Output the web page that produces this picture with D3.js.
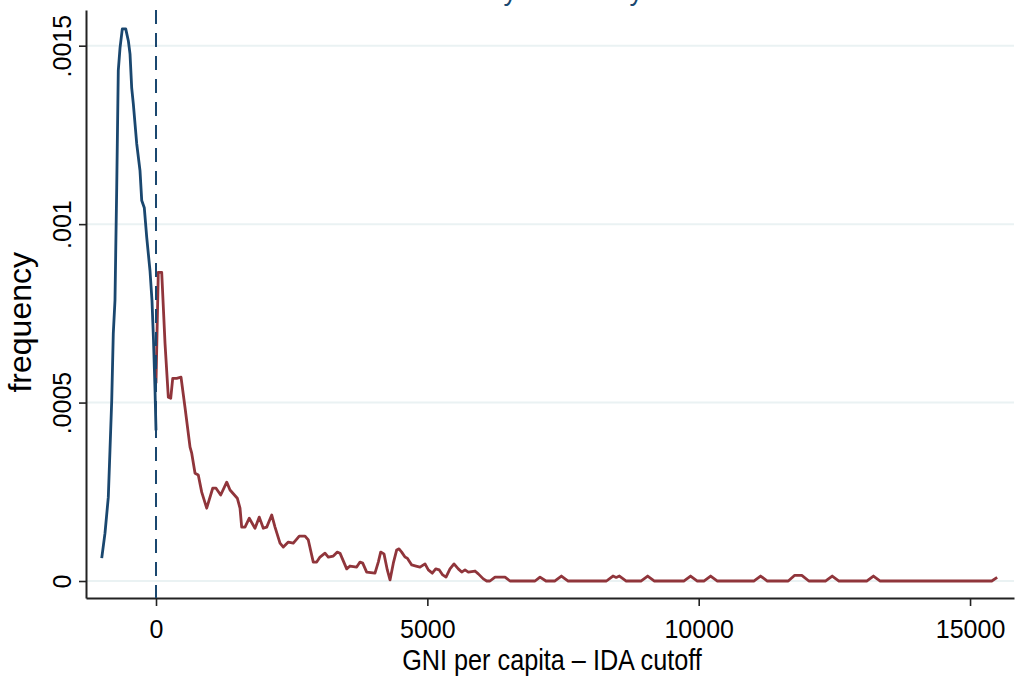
<!DOCTYPE html>
<html>
<head>
<meta charset="utf-8">
<script src="https://cdn.jsdelivr.net/npm/d3@7"></script>
<style>
  body { margin: 0; background: #fff; }
  svg { display: block; font-family: "Liberation Sans", Arial, sans-serif; }
</style>
</head>
<body>
<div id="chart"></div>
<script>
// GNI per capita minus IDA cutoff, below the cutoff
const belowGni = [-1000, -940, -879, -848, -816, -787, -756, -724, -695, -663, -621, -558, -510, -479,
  -448, -418, -356, -295, -263, -216, -171, -111, -74, -46, -18, 0];
const belowFreq = [0.000064, 0.000134, 0.000235, 0.000367, 0.000506, 0.000694, 0.000786, 0.001102,
  0.00143, 0.001494, 0.001547, 0.001547, 0.001514, 0.001477, 0.001382, 0.001337, 0.001226, 0.00115,
  0.001066, 0.001046, 0.000963, 0.00087, 0.000786, 0.000674, 0.000534, 0.000422];

// above the cutoff
const aboveGni = [0, 42, 105, 166, 227, 271, 308, 381, 461, 534, 627, 658, 719, 779, 842, 934, 1045,
  1106, 1192, 1303, 1364, 1498, 1548, 1579, 1640, 1719, 1824, 1903, 1977, 2040, 2132, 2193, 2285,
  2346, 2438, 2530, 2640, 2746, 2806, 2898, 2961, 3022, 3114, 3175, 3267, 3341, 3390, 3514, 3575,
  3698, 3759, 3809, 3882, 4035, 4096, 4140, 4201, 4262, 4312, 4373, 4435, 4478, 4527, 4588, 4631,
  4712, 4791, 4865, 4957, 5018, 5091, 5154, 5220, 5283, 5344, 5417, 5491, 5570, 5633, 5694, 5755,
  5878, 5939, 6031, 6094, 6154, 6247, 6431, 6523, 6984, 7076, 7186, 7345, 7470, 7595, 8300, 8420,
  8480, 8540, 8665, 8935, 9060, 9185, 9725, 9850, 9975, 10095, 10220, 10345, 11015, 11140, 11265,
  11650, 11770, 11900, 12030, 12335, 12460, 12585, 13095, 13220, 13345, 15400, 15500];
const aboveFreq = [0.000554, 0.000865, 0.000865, 0.000666, 0.000515, 0.000512, 0.000568, 0.000568,
  0.000571, 0.000487, 0.000375, 0.000358, 0.000302, 0.000297, 0.000249, 0.000204, 0.00026, 0.00026,
  0.000241, 0.000277, 0.000255, 0.000232, 0.000204, 0.000151, 0.000151, 0.000176, 0.000148, 0.000179,
  0.000148, 0.000151, 0.000185, 0.000151, 0.000106, 0.000095, 0.000109, 0.000106, 0.000126, 0.000126,
  0.000115, 0.000053, 0.000053, 0.000067, 0.000078, 0.000067, 0.00007, 0.000081, 0.000078, 0.000034,
  0.000042, 0.000039, 0.000053, 0.00005, 0.000025, 0.000022, 0.000053, 0.000081, 0.000076, 0.000031,
  0.000003, 0.00005, 0.000087, 0.00009, 0.000081, 0.000067, 0.000064, 0.000045, 0.000042, 0.000039,
  0.000048, 0.000031, 0.000022, 0.000034, 0.000031, 0.000017, 0.000011, 0.000034, 0.000048, 0.000034,
  0.000025, 0.000031, 0.000025, 0.000028, 0.00002, 0.000006, 0, 0, 0.000011, 0.000011, 0, 0,
  0.000011, 0, 0, 0.000014, 0, 0, 0.000014, 0.00001, 0.000014, 0, 0, 0.000014, 0, 0, 0.000014, 0,
  0, 0.000014, 0, 0, 0.000014, 0, 0, 0.000016, 0.000016, 0, 0, 0.000014, 0, 0, 0.000014, 0, 0, 0.00001];

const xTicks = [0, 5000, 10000, 15000];
const yTicks = [0, 0.0005, 0.001, 0.0015];
const yTickLabels = ["0", ".0005", ".001", ".0015"];
const cutoff = 0;

const width = 1018, height = 676;
const blue = "#1a476f", red = "#90353b";

const svg = d3.select("#chart").append("svg")
  .attr("width", width).attr("height", height);

const x = d3.scaleLinear().domain([-1290, 15810]).range([86, 1014]);
const y = d3.scaleLinear().domain([-0.0000476, 0.0016]).range([598, 10]);

// gridlines
svg.append("g").selectAll("line").data(yTicks).join("line")
  .attr("x1", x.range()[0]).attr("x2", x.range()[1])
  .attr("y1", d => y(d)).attr("y2", d => y(d))
  .attr("stroke", "#eaf2f3").attr("stroke-width", 2);

// title (mostly cut off at the top)
svg.append("text")
  .attr("x", 427).attr("y", 0)
  .attr("fill", blue).attr("font-size", 27)
  .text("Density of country income");

// axes
const xAxis = svg.append("g")
  .attr("transform", "translate(0," + y.range()[0] + ")")
  .call(d3.axisBottom(x).tickValues(xTicks).tickSizeInner(8).tickSizeOuter(0)
    .tickPadding(14).tickFormat(d3.format("d")));
const yAxis = svg.append("g")
  .attr("transform", "translate(" + x.range()[0] + ",0)")
  .call(d3.axisLeft(y).tickValues(yTicks).tickSizeInner(7).tickSizeOuter(0)
    .tickFormat((d, i) => yTickLabels[i]));

[xAxis, yAxis].forEach(g => {
  g.select(".domain").attr("stroke", "#222").attr("stroke-width", 2);
  g.selectAll(".tick line").attr("stroke", "#222").attr("stroke-width", 1.6);
  g.selectAll("text").attr("font-size", 25).attr("fill", "#000")
    .attr("font-family", "Liberation Sans, Arial, sans-serif");
});
yAxis.selectAll(".tick text")
  .attr("text-anchor", "middle")
  .attr("x", null).attr("dy", null)
  .attr("transform", "translate(-15,0) rotate(-90)");

// axis titles
svg.append("text")
  .attr("transform", "translate(552,670) scale(0.87,1)")
  .attr("text-anchor", "middle").attr("font-size", 29)
  .text("GNI per capita \u2013 IDA cutoff");
svg.append("text")
  .attr("transform", "translate(31," + y(0.000725) + ") rotate(-90)")
  .attr("text-anchor", "middle").attr("font-size", 32)
  .text("frequency");

// density lines
const line = d3.line().x(d => x(d[0])).y(d => y(d[1]));
svg.append("path")
  .attr("d", line(aboveGni.map((g, i) => [g, aboveFreq[i]])))
  .attr("fill", "none").attr("stroke", red).attr("stroke-width", 2.8)
  .attr("stroke-linejoin", "round");
svg.append("path")
  .attr("d", line(belowGni.map((g, i) => [g, belowFreq[i]])))
  .attr("fill", "none").attr("stroke", blue).attr("stroke-width", 2.8)
  .attr("stroke-linejoin", "round");

// cutoff line
svg.append("line")
  .attr("x1", x(cutoff)).attr("x2", x(cutoff))
  .attr("y1", y.range()[1]).attr("y2", y.range()[0])
  .attr("stroke", blue).attr("stroke-width", 2)
  .attr("stroke-dasharray", "14,9");
</script>
</body>
</html>
